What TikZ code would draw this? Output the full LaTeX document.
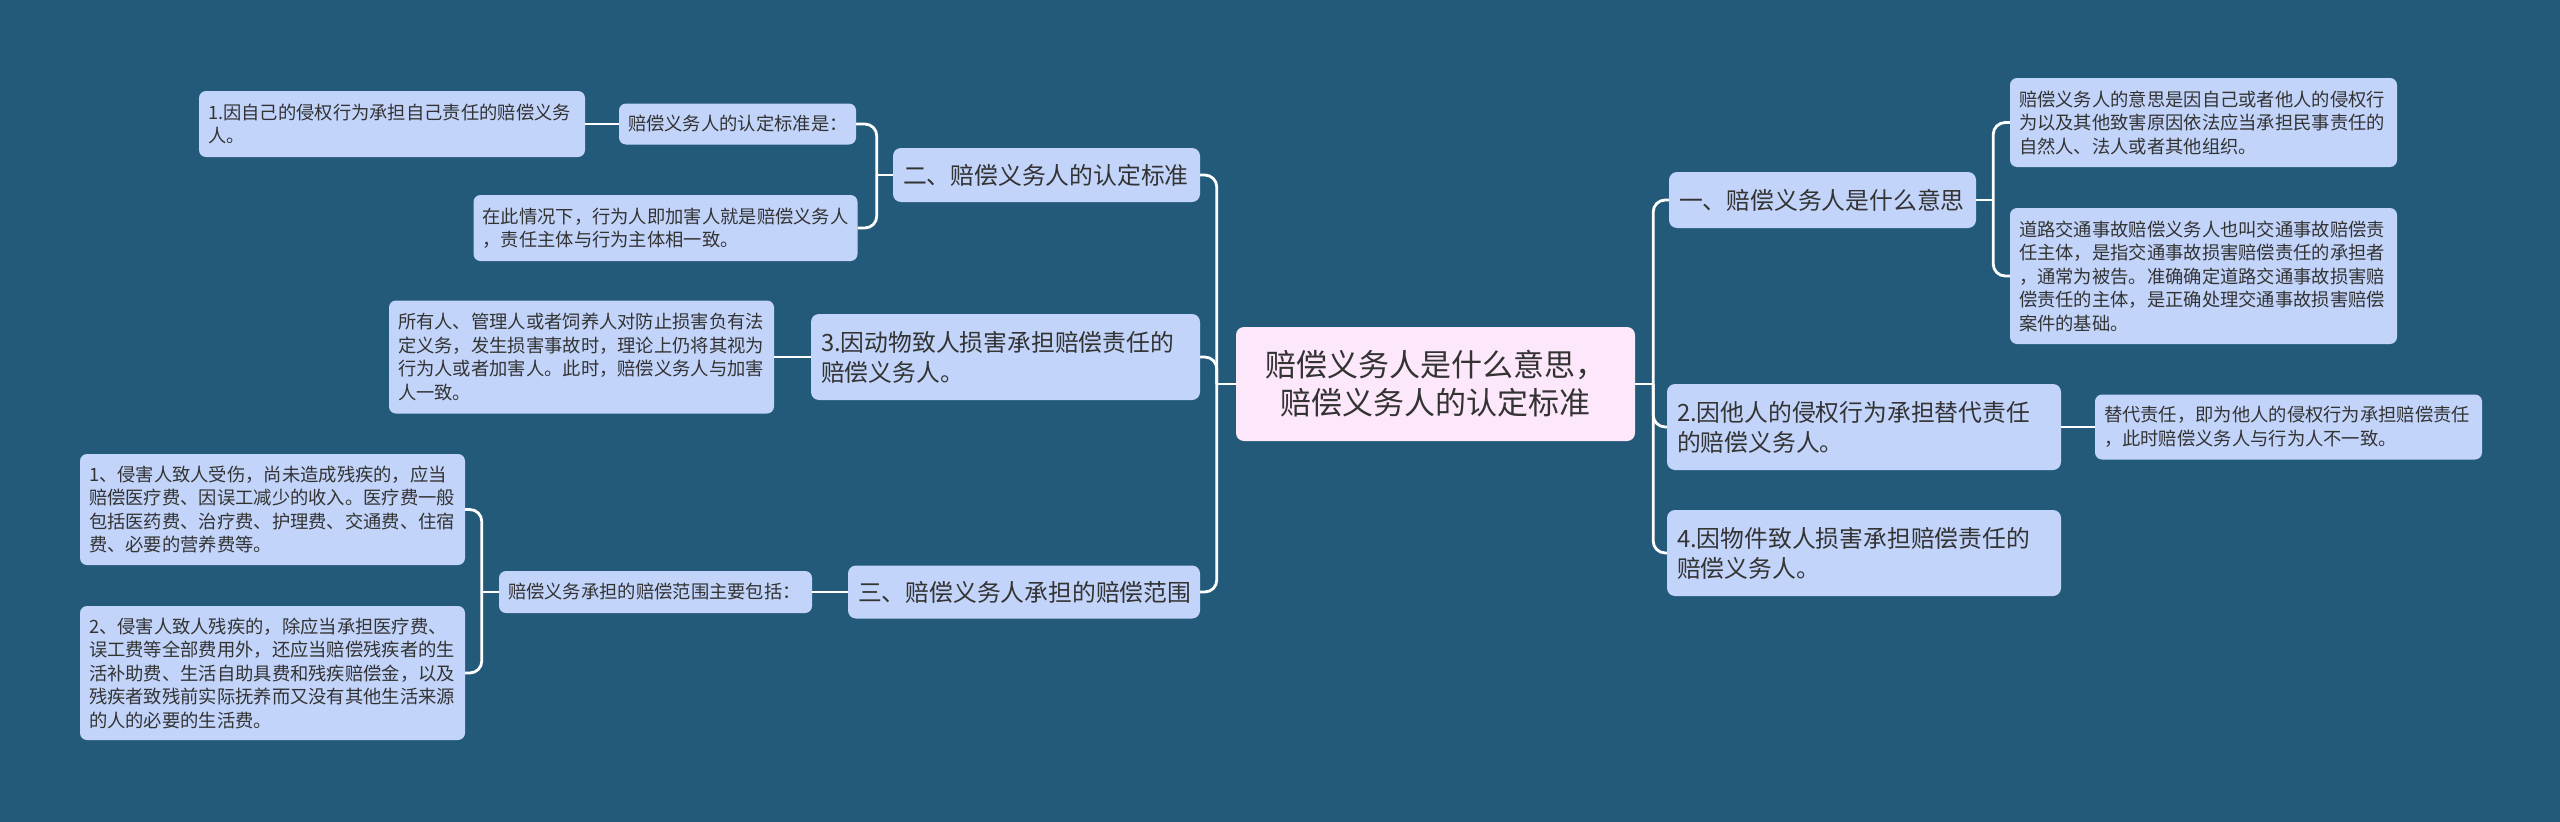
\documentclass[tikz,border=0pt]{standalone}
\usepackage{fontspec}
\setmainfont{Noto Sans CJK SC}
\usepackage{xcolor}
\usepackage{tikz}
\definecolor{bg}{HTML}{235A7A}
\definecolor{nodeblue}{HTML}{C2D4FA}
\definecolor{rootpink}{HTML}{FDE7FB}
\definecolor{ink}{HTML}{333333}
\tikzset{
  conn/.style={draw=white, line width=2.8pt, rounded corners=12pt},
  rootbox/.style={rectangle, rounded corners=8pt, fill=rootpink, text=ink, inner xsep=10pt, inner ysep=0pt, align=center, font=\fontsize{31pt}{38pt}\selectfont},
  topic/.style={rectangle, rounded corners=8pt, fill=nodeblue, text=ink, inner xsep=10pt, inner ysep=0pt, align=left, font=\fontsize{23.8pt}{30pt}\selectfont},
  leaf/.style={rectangle, rounded corners=7pt, fill=nodeblue, text=ink, inner xsep=9pt, inner ysep=0pt, align=left, font=\fontsize{18.3pt}{23.5pt}\selectfont}
}

\begin{document}
\begin{tikzpicture}[x=1pt, y=-1pt]
  \fill[bg] (0,0) rectangle (2560,822);
  \useasboundingbox (0,0) rectangle (2560,822);

  \node[rootbox, text width=379pt, minimum height=114pt] (root) at (1435.5,384) {赔偿义务人是什么意思，\\赔偿义务人的认定标准};

  \node[topic, text width=287pt, minimum height=56pt] (A1) at (1822.5,200) {一、赔偿义务人是什么意思};
  \node[leaf, text width=369pt, minimum height=89pt] (A1a) at (2203.5,122.5) {赔偿义务人的意思是因自己或者他人的侵权行\\为以及其他致害原因依法应当承担民事责任的\\自然人、法人或者其他组织。};
  \node[leaf, text width=369pt, minimum height=136pt] (A1b) at (2203.5,276) {道路交通事故赔偿义务人也叫交通事故赔偿责\\任主体，是指交通事故损害赔偿责任的承担者\\，通常为被告。准确确定道路交通事故损害赔\\偿责任的主体，是正确处理交通事故损害赔偿\\案件的基础。};
  \node[topic, text width=374pt, minimum height=86pt] (A2) at (1864,427) {2.因他人的侵权行为承担替代责任\\的赔偿义务人。};
  \node[leaf, text width=369pt, minimum height=65pt] (A2a) at (2288.5,427) {替代责任，即为他人的侵权行为承担赔偿责任\\，此时赔偿义务人与行为人不一致。};
  \node[topic, text width=374pt, minimum height=86pt] (A3) at (1864,553) {4.因物件致人损害承担赔偿责任的\\赔偿义务人。};

  \node[topic, text width=287pt, minimum height=54pt] (B1) at (1046.5,175) {二、赔偿义务人的认定标准};
  \node[leaf, text width=219pt, minimum height=41pt] (B1a) at (737.5,124) {赔偿义务人的认定标准是：};
  \node[leaf, text width=368pt, minimum height=66pt] (B1aa) at (392,124) {1.因自己的侵权行为承担自己责任的赔偿义务\\人。};
  \node[leaf, text width=366pt, minimum height=66pt] (B1b) at (665.5,228) {在此情况下，行为人即加害人就是赔偿义务人\\，责任主体与行为主体相一致。};
  \node[topic, text width=369pt, minimum height=86pt] (B2) at (1005.5,357) {3.因动物致人损害承担赔偿责任的\\赔偿义务人。};
  \node[leaf, text width=367pt, minimum height=113pt] (B2a) at (581.5,357) {所有人、管理人或者饲养人对防止损害负有法\\定义务，发生损害事故时，理论上仍将其视为\\行为人或者加害人。此时，赔偿义务人与加害\\人一致。};
  \node[topic, text width=332pt, minimum height=53pt] (B3) at (1024,592) {三、赔偿义务人承担的赔偿范围};
  \node[leaf, text width=295pt, minimum height=42pt] (B3a) at (655.5,592) {赔偿义务承担的赔偿范围主要包括：};
  \node[leaf, text width=367pt, minimum height=111pt] (B3aa) at (272.5,509.5) {1、侵害人致人受伤，尚未造成残疾的，应当\\赔偿医疗费、因误工减少的收入。医疗费一般\\包括医药费、治疗费、护理费、交通费、住宿\\费、必要的营养费等。};
  \node[leaf, text width=367pt, minimum height=134pt] (B3ab) at (272.5,673) {2、侵害人致人残疾的，除应当承担医疗费、\\误工费等全部费用外，还应当赔偿残疾者的生\\活补助费、生活自助具费和残疾赔偿金，以及\\残疾者致残前实际抚养而又没有其他生活来源\\的人的必要的生活费。};

  \draw[conn] (root.east) -- ++(18,0) coordinate (rroot);
  \draw[conn] (rroot) |- (A1.west);
  \draw[conn] (rroot) |- (A2.west);
  \draw[conn] (rroot) |- (A3.west);
  \draw[conn] (A1.east) -- ++(17,0) coordinate (ra1);
  \draw[conn] (ra1) |- (A1a.west);
  \draw[conn] (ra1) |- (A1b.west);
  \draw[conn] (A2.east) -- (A2a.west);

  \draw[conn] (root.west) -- ++(-19,0) coordinate (lroot);
  \draw[conn] (lroot) |- (B1.east);
  \draw[conn] (lroot) |- (B2.east);
  \draw[conn] (lroot) |- (B3.east);
  \draw[conn] (B1.west) -- ++(-16,0) coordinate (lb1);
  \draw[conn] (lb1) |- (B1a.east);
  \draw[conn] (lb1) |- (B1b.east);
  \draw[conn] (B1a.west) -- (B1aa.east);
  \draw[conn] (B2.west) -- (B2a.east);
  \draw[conn] (B3.west) -- (B3a.east);
  \draw[conn] (B3a.west) -- ++(-17,0) coordinate (lb3a);
  \draw[conn] (lb3a) |- (B3aa.east);
  \draw[conn] (lb3a) |- (B3ab.east);
\end{tikzpicture}
\end{document}
